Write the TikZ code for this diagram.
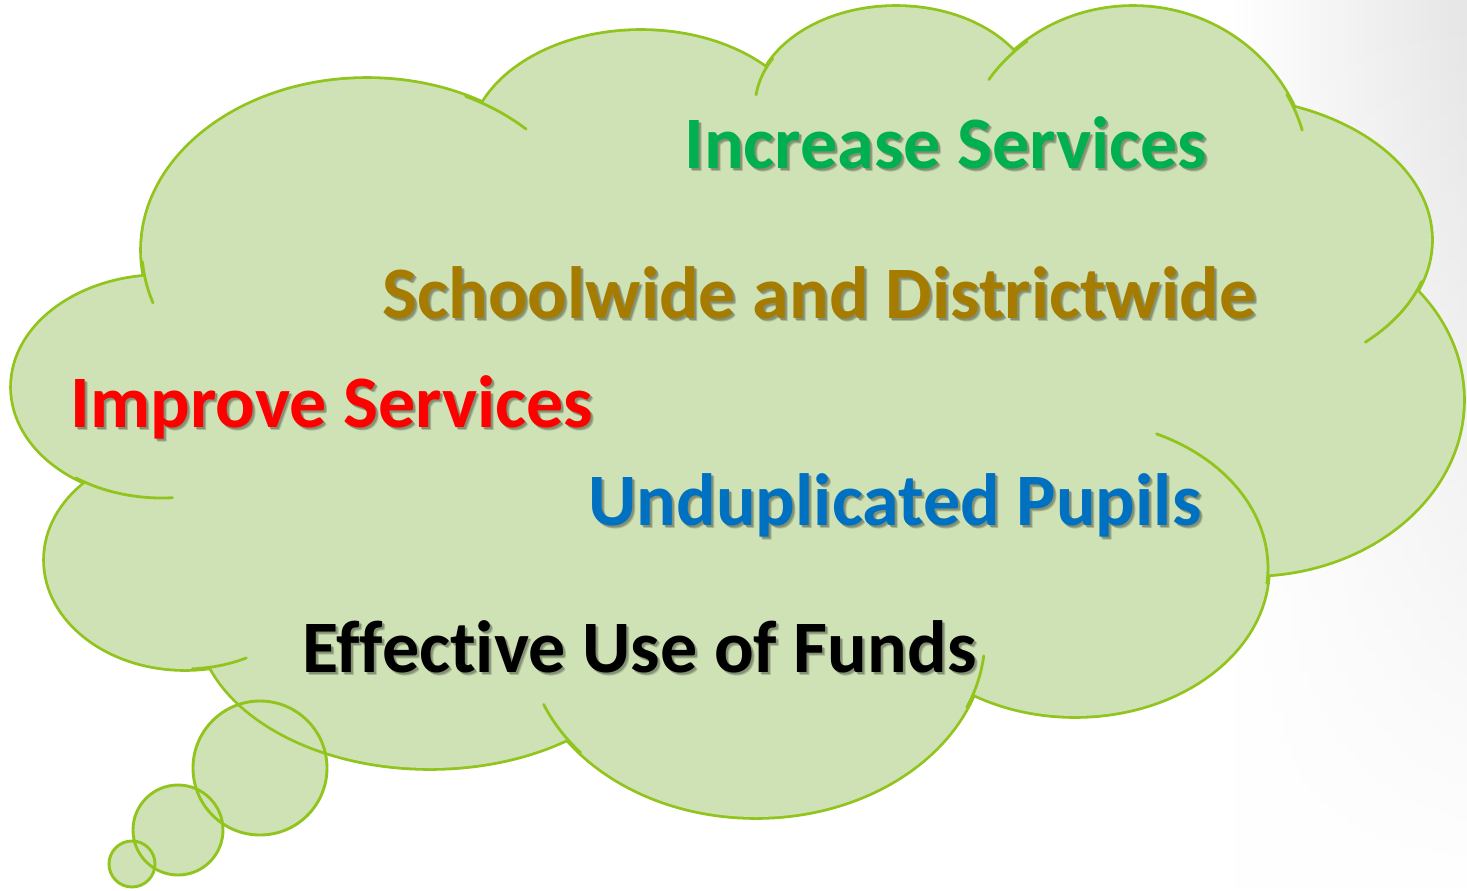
\documentclass[tikz,border=0pt]{standalone}
\usepackage{fontspec}
\setmainfont{Carlito}[Ligatures={NoCommon,NoRare,NoContextual}]
\usetikzlibrary{fadings}
\definecolor{cloudfill}{RGB}{207,226,181}
\definecolor{cloudline}{RGB}{146,196,30}
\definecolor{tgreen}{RGB}{0,176,80}
\definecolor{tgold}{RGB}{166,124,0}
\definecolor{tred}{RGB}{255,0,0}
\definecolor{tblue}{RGB}{0,112,192}
\tikzfading[name=cornerfade, top color=transparent!0, bottom color=transparent!100]
\tikzset{
  lbl/.style={anchor=base west, font=\fontsize{37}{40}\selectfont\bfseries, inner sep=0pt},
  outl/.style={draw=cloudline, line width=2.8pt},
  stub/.style={draw=cloudline, line width=1.4pt, line cap=round},
  bubble/.style={draw=cloudline, line width=1.45pt}
}
\newcommand\shtext[5]{%
  \node[lbl,text=black,opacity=.18] (#1s1) at (#2+3,#3+3) {#5};
  \node[lbl,text=black,opacity=.22] (#1s2) at (#2+2,#3+2) {#5};
  \node[lbl,text=#4] (#1) at (#2,#3) {#5};}
\def\lobes{367/250/225/171, 641/148/171/117, 896/107/141/100, 1133/177/176/170,
  1216/240/215/142, 1250/400/213/175, 1075/568/193/148, 756/637/229/180,
  430/618/232/150, 185/560/140/109, 162/387/150/111}
\begin{document}
\begin{tikzpicture}[x=0.5pt,y=-0.5pt]
\useasboundingbox (0,0) rectangle (1467,890);
\fill[white] (0,0) rectangle (1467,890);
\shade[left color=white, right color=black!10, path fading=cornerfade] (1230,0) rectangle (1467,890);
% bubble fills
\fill[cloudfill] (260,768) circle [radius=33.5pt];
\fill[cloudfill] (178,830) circle [radius=22.5pt];
\fill[cloudfill] (132,864) circle [radius=11.5pt];
% cloud outline (outer half of a doubled stroke)
\foreach \cx/\cy/\rx/\ry in \lobes {
  \draw[outl] (\cx,\cy) ellipse [x radius=\rx*0.5pt, y radius=\ry*0.5pt];
}
\foreach \cx/\cy/\rx/\ry in \lobes {
  \fill[cloudfill] (\cx,\cy) ellipse [x radius=\rx*0.5pt, y radius=\ry*0.5pt];
}
\fill[cloudfill] (143,277) -- (484,102) -- (767,69) -- (1014,52) -- (1299,109)
  -- (1415,293) -- (1267,570) -- (972,695) -- (566,740) -- (209,667) -- (85,483) -- cycle;
% inner arcs
\foreach \cx/\cy/\rx/\ry/\a/\b in {
  367/250/225/171/-64/-45, 367/250/225/171/176/162, 162/387/150/111/125/86,
  185/560/140/109/87/64, 756/637/229/180/140/158, 756/637/229/180/23/6,
  1075/568/193/148/6/-65, 1216/240/215/142/17/46, 1133/177/176/170/-29/-16,
  1133/177/176/170/233/215, 896/107/141/100/209/187} {
  \draw[stub] plot[domain=\a:\b, samples=30] ({\cx+\rx*cos(\x)},{\cy+\ry*sin(\x)});
}
% bubble outlines
\draw[bubble] (260,768) circle [radius=33.5pt];
\draw[bubble] (178,830) circle [radius=22.5pt];
\draw[bubble] (132,864) circle [radius=11.5pt];
% texts
\shtext{inc}{684}{168}{tgreen}{Increase Services}
\shtext{sch}{382}{318}{tgold}{Schoolwide and Districtwide}
\shtext{imp}{70}{427}{tred}{Improve Services}
\shtext{und}{588}{525}{tblue}{Unduplicated Pupils}
\shtext{eff}{302}{672}{black}{Effective Use of Funds}
\end{tikzpicture}
\end{document}
